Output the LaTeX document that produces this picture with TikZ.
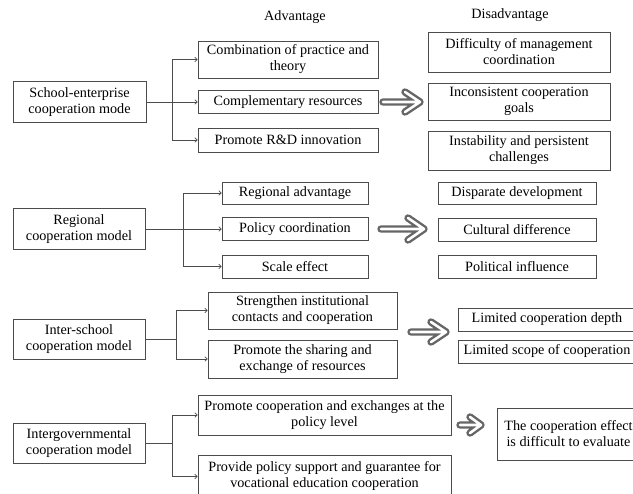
\documentclass[tikz,border=0pt]{standalone}
\usepackage{fontspec}
\setmainfont{Liberation Serif}
\usetikzlibrary{arrows.meta,calc}

\newcommand{\hollowarrow}[4]{%
  \draw[bigarrow] (#1) -- (#2) ($(#2)+(-#3,-#4)$) -- (#2) -- ($(#2)+(-#3,#4)$);}

\begin{document}
\begin{tikzpicture}[
                            x=1pt, y=-1pt,
                            >={To[length=3pt,width=5pt]},
                            font=\fontsize{14.2}{16}\selectfont,
                            box/.style={rectangle, draw=black!70, line width=0.8pt, align=center, inner sep=0pt},
                            link/.style={->, draw=black!70, line width=0.8pt},
                            bigarrow/.style={draw=black!60, double=white, double distance=2.6pt, line width=2.4pt, line cap=round, line join=round}
                        ]
                        \useasboundingbox (0,0) rectangle (633,494);
                        % Headings
                        \node (adv) at (295,17) {Advantage};
                        \node (disadv) at (510,15) {Disadvantage};

                        % School-enterprise
                        \node [box, minimum width=133pt, minimum height=41pt] (se) at (79.5,102) {School-enterprise\\cooperation mode};
                        \node [box, minimum width=180pt, minimum height=37pt] (a11) at (288,59.5) {Combination of practice and\\theory};
                        \node [box, minimum width=180pt, minimum height=23pt] (a12) at (288,102) {Complementary resources};
                        \node [box, minimum width=180pt, minimum height=24pt] (a13) at (288,140) {Promote R\&D innovation};
                        \node [box, minimum width=182pt, minimum height=40pt] (d11) at (519,52) {Difficulty of management\\coordination};
                        \node [box, minimum width=182pt, minimum height=37pt] (d12) at (519,101.5) {Inconsistent cooperation\\goals};
                        \node [box, minimum width=182pt, minimum height=39pt] (d13) at (519,150.5) {Instability and persistent\\challenges};

                        % Regional
                        \node [box, minimum width=132pt, minimum height=41pt] (rg) at (79,229) {Regional\\cooperation model};
                        \node [box, minimum width=146pt, minimum height=22pt] (a21) at (295,193) {Regional advantage};
                        \node [box, minimum width=146pt, minimum height=23pt] (a22) at (295,229) {Policy coordination};
                        \node [box, minimum width=146pt, minimum height=23pt] (a23) at (295,266.5) {Scale effect};
                        \node [box, minimum width=158pt, minimum height=22pt] (d21) at (517,193) {Disparate development};
                        \node [box, minimum width=158pt, minimum height=23pt] (d22) at (517,229.5) {Cultural difference};
                        \node [box, minimum width=158pt, minimum height=23pt] (d23) at (517,266.5) {Political influence};

                        % Inter-school
                        \node [box, minimum width=132pt, minimum height=40pt] (is) at (79,339) {Inter-school\\cooperation model};
                        \node [box, minimum width=189pt, minimum height=37pt] (a31) at (302.5,310.5) {Strengthen institutional\\contacts and cooperation};
                        \node [box, minimum width=189pt, minimum height=38pt] (a32) at (302.5,359) {Promote the sharing and\\exchange of resources};
                        \node [box, minimum width=178pt, minimum height=23pt] (d31) at (547,319.5) {Limited cooperation depth};
                        \node [box, minimum width=178pt, minimum height=23pt] (d32) at (547,351.5) {Limited scope of cooperation};

                        % Intergovernmental
                        \node [box, minimum width=132pt, minimum height=40pt] (ig) at (79,443) {Intergovernmental\\cooperation model};
                        \node [box, minimum width=253pt, minimum height=40pt] (a41) at (324.5,415) {Promote cooperation and exchanges at the\\policy level};
                        \node [box, minimum width=253pt, minimum height=43pt] (a42) at (324.5,476.5) {Provide policy support and guarantee for\\vocational education cooperation};
                        \node [box, minimum width=143pt, minimum height=52pt] (d41) at (568.5,434) {The cooperation effect\\is difficult to evaluate};

                        % Forks
                        \coordinate (se-fork) at ($(se.east)+(26,0)$);
                        \coordinate (rg-fork) at ($(rg.east)+(38,0)$);
                        \coordinate (is-fork) at ($(is.east)+(31,0)$);
                        \coordinate (ig-fork) at ($(ig.east)+(27,0)$);

                        % Connections
                        \draw [link, -] (se.east) -- (se-fork);
                        \foreach \n in {a11,a12,a13} \draw [link] (se-fork) |- (\n.west);
                        \draw [link, -] (rg.east) -- (rg-fork);
                        \foreach \n in {a21,a22,a23} \draw [link] (rg-fork) |- (\n.west);
                        \draw [link, -] (is.east) -- (is-fork);
                        \foreach \n in {a31,a32} \draw [link] (is-fork) |- (\n.west);
                        \draw [link, -] (ig.east) -- (ig-fork);
                        \foreach \n in {a41,a42} \draw [link] (ig-fork) |- (\n.west);

                        % Hollow arrows
                        \coordinate (h1s) at (383,102);   \coordinate (h1e) at (420,102);
                        \coordinate (h2s) at (381,229);   \coordinate (h2e) at (424,229);
                        \coordinate (h3s) at (411,332);   \coordinate (h3e) at (446,332);
                        \coordinate (h4s) at (460,425);   \coordinate (h4e) at (481,425);
                        \hollowarrow{h1s}{h1e}{15}{10}
                        \hollowarrow{h2s}{h2e}{16}{11}
                        \hollowarrow{h3s}{h3e}{15}{10}
                        \hollowarrow{h4s}{h4e}{11}{8}
                    \end{tikzpicture}
\end{document}
